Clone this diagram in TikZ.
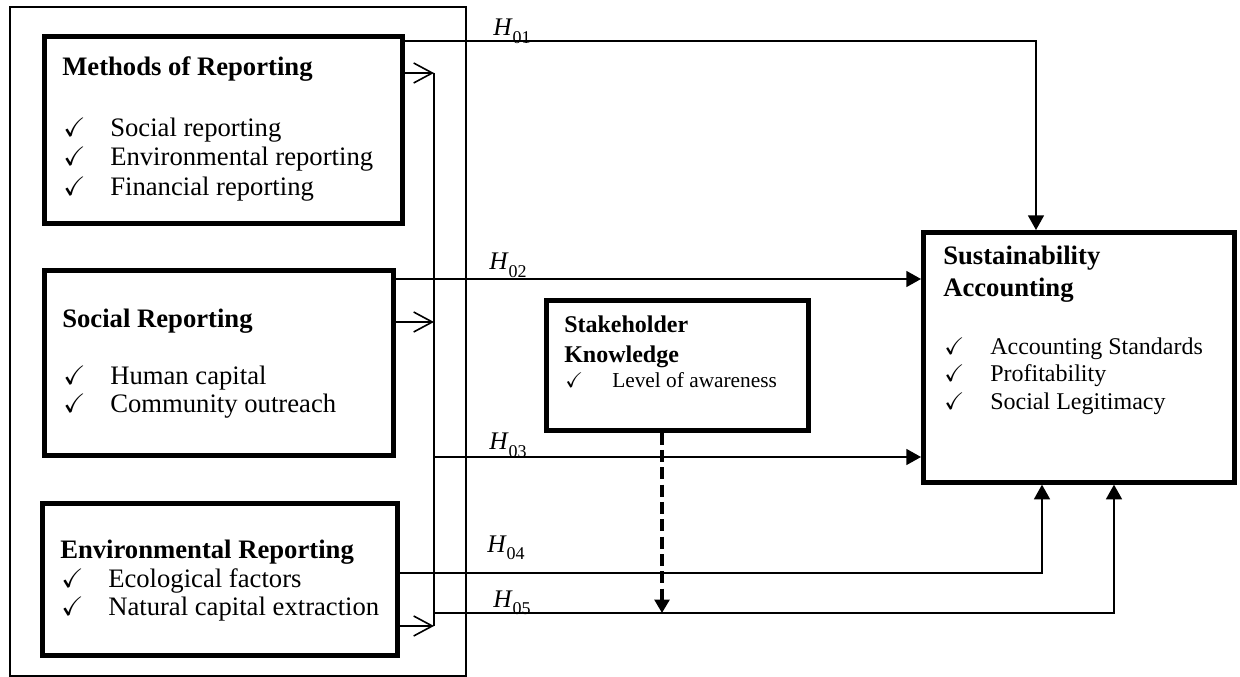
\documentclass[tikz,border=0pt]{standalone}
\usepackage{amssymb}
\usepackage{fontspec}
\setmainfont{Liberation Serif}
\usetikzlibrary{arrows.meta}

\newcommand{\hyplab}[1]{\textit{H}\raisebox{-0.28em}{\fontsize{13.5}{14}\selectfont #1}}

\tikzset{
  box/.style={draw, line width=3.5pt, anchor=north west, inner sep=0pt},
  ttl/.style={anchor=base west, inner sep=0pt, font=\fontsize{20}{22}\selectfont\bfseries},
  sttl/.style={anchor=base west, inner sep=0pt, font=\fontsize{18}{20}\selectfont\bfseries},
  itm/.style={anchor=base west, inner sep=0pt, font=\fontsize{20}{22}\selectfont},
  mitm/.style={anchor=base west, inner sep=0pt, font=\fontsize{18}{20}\selectfont},
  sitm/.style={anchor=base west, inner sep=0pt, font=\fontsize{16}{18}\selectfont},
  hyp/.style={anchor=base west, inner sep=0pt, font=\fontsize{19}{20}\selectfont},
  link/.style={line width=1.2pt},
  openhead/.style={-{Straight Barb[length=14pt,width=15pt,line width=1.2pt]}},
  fillhead/.style={-{Triangle[length=11pt,width=12pt]}}
}

\begin{document}
\begin{tikzpicture}[x=0.75pt,y=0.75pt,yscale=-1,xscale=1]
\useasboundingbox (0,0) rectangle (1240,677);

%Outer frame
\draw [line width=1.2pt] (10,7) rectangle (466,676);

%Boxes
\node [box, minimum width=268.5pt, minimum height=140.25pt] (meth) at (42,34) {};
\node [box, minimum width=261.75pt, minimum height=138.75pt] (soc) at (42,268) {};
\node [box, minimum width=266.25pt, minimum height=114pt] (env) at (40,501) {};
\node [box, minimum width=196.5pt, minimum height=97.5pt] (stake) at (544,298) {};
\node [box, minimum width=233.25pt, minimum height=187.5pt] (sust) at (921,230) {};

% Text: Methods of Reporting
\node [ttl] (methT) at (62,76) {Methods of Reporting};
\node [itm] (methC1) at (63,137) {$\checkmark$};
\node [itm] (methI1) at (110,137) {Social reporting};
\node [itm] (methC2) at (63,166) {$\checkmark$};
\node [itm] (methI2) at (110,166) {Environmental reporting};
\node [itm] (methC3) at (63,196) {$\checkmark$};
\node [itm] (methI3) at (110,196) {Financial reporting};

% Text: Social Reporting
\node [ttl] (socT) at (62,328) {Social Reporting};
\node [itm] (socC1) at (63,385) {$\checkmark$};
\node [itm] (socI1) at (110,385) {Human capital};
\node [itm] (socC2) at (63,413) {$\checkmark$};
\node [itm] (socI2) at (110,413) {Community outreach};

% Text: Environmental Reporting
\node [ttl] (envT) at (60,558) {Environmental Reporting};
\node [itm] (envC1) at (61,587) {$\checkmark$};
\node [itm] (envI1) at (108,587) {Ecological factors};
\node [itm] (envC2) at (61,615) {$\checkmark$};
\node [itm] (envI2) at (108,615) {Natural capital extraction};

% Text: Stakeholder Knowledge
\node [sttl] (stakeT1) at (564,333) {Stakeholder};
\node [sttl] (stakeT2) at (564,363) {Knowledge};
\node [sitm] (stakeC1) at (565,388) {$\checkmark$};
\node [sitm] (stakeI1) at (612,388) {Level of awareness};

% Text: Sustainability Accounting
\node [ttl] (sustT1) at (943,265) {Sustainability};
\node [ttl] (sustT2) at (943,297) {Accounting};
\node [mitm] (sustC1) at (944,355) {$\checkmark$};
\node [mitm] (sustI1) at (990,355) {Accounting Standards};
\node [mitm] (sustC2) at (944,382) {$\checkmark$};
\node [mitm] (sustI2) at (990,382) {Profitability};
\node [mitm] (sustC3) at (944,410) {$\checkmark$};
\node [mitm] (sustI3) at (990,410) {Social Legitimacy};

% Bends and levels of the connectors
\coordinate (busT) at (434,73);
\coordinate (busB) at (434,626);
\coordinate (busS) at (434,322);
\coordinate (h1) at (1036,41);
\coordinate (h2) at (0,279);
\coordinate (h3) at (0,457);
\coordinate (h4) at (1042,573);
\coordinate (h5) at (1114,613);
\coordinate (mod) at (662,613);

% Collector line
\draw [link] (busT) -- (busB);
\draw [link, openhead] (meth.east |- busT) -- (busT);
\draw [link, openhead] (soc.east |- busS) -- (busS);
\draw [link, openhead] (env.east |- busB) -- (busB);

% Hypotheses
\draw [link, fillhead] (meth.east |- h1) -| (sust.north -| h1);
\draw [link, fillhead] (soc.east |- h2) -- (sust.west |- h2);
\draw [link, fillhead] (busT |- h3) -- (sust.west |- h3);
\draw [link, fillhead] (env.east |- h4) -| (sust.south -| h4);
\draw [link, fillhead] (busB |- h5) -| (sust.south -| h5);

% Moderator
\draw [line width=3pt, dash pattern=on 9pt off 4pt, -{Triangle[length=10pt,width=11pt]}] (stake.south -| mod) -- (mod);

% Labels
\node [hyp] (lab1) at (493,36) {\hyplab{01}};
\node [hyp] (lab2) at (489,270) {\hyplab{02}};
\node [hyp] (lab3) at (489,450) {\hyplab{03}};
\node [hyp] (lab4) at (487,552) {\hyplab{04}};
\node [hyp] (lab5) at (493,607) {\hyplab{05}};

\end{tikzpicture}
\end{document}
